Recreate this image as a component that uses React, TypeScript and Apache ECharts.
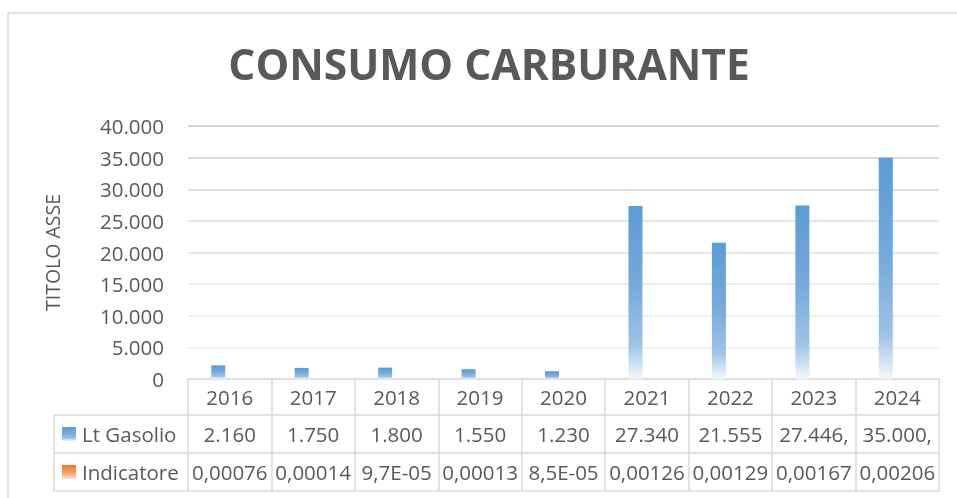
import React, { useEffect, useRef } from "react";
import * as echarts from "echarts";

const years = ["2016", "2017", "2018", "2019", "2020", "2021", "2022", "2023", "2024"];
const gasolio = [2160, 1750, 1800, 1550, 1230, 27340, 21555, 27446, 35000];
const indicatore = [0.00076, 0.00014, 0.000097, 0.00013, 0.000085, 0.00126, 0.00129, 0.00167, 0.00206];
const gasolioLabels = ["2.160", "1.750", "1.800", "1.550", "1.230", "27.340", "21.555", "27.446,", "35.000,"];
const indicatoreLabels = ["0,00076", "0,00014", "9,7E-05", "0,00013", "8,5E-05", "0,00126", "0,00129", "0,00167", "0,00206"];
const seriesNames = ["Lt Gasolio", "Indicatore"];

const FONT = "Open Sans";
const TXT = "#595959";
const LINE = "#D9D9D9";

const GRID_LEFT = 188;
const GRID_RIGHT = 18;
const GRID_TOP = 126;
const GRID_BOTTOM = 119;
const ROW = [36, 38, 38];

const blueGrad = () =>
  new echarts.graphic.LinearGradient(0, 0, 0, 1, [
    { offset: 0, color: "#5B9BD5" },
    { offset: 0.45, color: "#74A9DB" },
    { offset: 0.8, color: "#9DC3E6" },
    { offset: 1, color: "#F3F7FC" },
  ]);
const orangeGrad = () =>
  new echarts.graphic.LinearGradient(0, 0, 0, 1, [
    { offset: 0, color: "#ED7D31" },
    { offset: 0.6, color: "#F2A36E" },
    { offset: 1, color: "#FBE3D3" },
  ]);

export default function App() {
  const ref = useRef<HTMLDivElement>(null);
  useEffect(() => {
    if (!ref.current) return;
    const chart = echarts.init(ref.current, undefined, { renderer: "svg" });
    const axisBottom = 498 - GRID_BOTTOM;
    const r1 = axisBottom + ROW[0];
    const r2 = r1 + ROW[1];
    const r3 = r2 + ROW[2];
    const legLeft = 54;
    const labelStyle = { color: TXT, fontFamily: FONT, fontSize: 20.5 };
    const rowAxis = (data: string[], offset: number, h: number, showLabel: boolean) => ({
      type: "category",
      data,
      position: "bottom",
      offset,
      axisLine: { show: true, lineStyle: { color: LINE, width: 1.5 } },
      axisTick: { show: false },
      axisLabel: { show: showLabel, ...labelStyle, margin: h / 2, verticalAlign: "middle", interval: 0 },
      splitLine: { show: false },
    });
    chart.setOption({
      animation: false,
      title: {
        text: "CONSUMO CARBURANTE",
        left: 484,
        top: 37,
        textAlign: "center",
        textStyle: { color: TXT, fontFamily: FONT, fontWeight: "bold", fontSize: 42.5 },
      },
      grid: { left: GRID_LEFT, right: GRID_RIGHT, top: GRID_TOP, bottom: GRID_BOTTOM },
      xAxis: [
        {
          type: "category",
          data: years,
          axisLine: { show: true, lineStyle: { color: LINE, width: 1.5 } },
          axisTick: { show: true, length: r3 - axisBottom, lineStyle: { color: LINE, width: 1.5 } },
          axisLabel: { ...labelStyle, margin: ROW[0] / 2, verticalAlign: "middle", interval: 0 },
        },
        rowAxis(gasolioLabels, ROW[0], ROW[1], true),
        rowAxis(indicatoreLabels, ROW[0] + ROW[1], ROW[2], true),
        rowAxis(years.map(() => ""), ROW[0] + ROW[1] + ROW[2], 10, false),
      ],
      yAxis: {
        type: "value",
        min: 0,
        max: 40000,
        interval: 5000,
        name: "TITOLO ASSE",
        nameLocation: "middle",
        nameRotate: 90,
        nameGap: 126,
        nameTextStyle: { color: TXT, fontFamily: FONT, fontSize: 19.5 },
        axisLine: { show: false },
        axisTick: { show: false },
        axisLabel: {
          ...labelStyle,
          margin: 24,
          formatter: (v: number) => (v === 0 ? "0" : v.toLocaleString("de-DE")),
        },
        splitLine: {
          lineStyle: {
            width: 1.5,
            color: ["#F2F2F2", "#EFEFEF", "#EBEBEB", "#E6E6E6", "#E1E1E1", "#DBDBDB", "#D4D4D4", "#CDCDCD", "#C7C7C7"],
          },
        },
      },
      series: [
        {
          name: seriesNames[0],
          type: "bar",
          data: gasolio,
          barWidth: 14,
          barGap: "64%",
          itemStyle: { color: blueGrad() },
        },
        {
          name: seriesNames[1],
          type: "bar",
          data: indicatore,
          barWidth: 14,
          itemStyle: { color: orangeGrad() },
        },
      ],
      graphic: [
        {
          type: "rect",
          silent: true,
          z: -10,
          shape: { x: 8, y: 13, width: 1000, height: 600 },
          style: { fill: "none", stroke: LINE, lineWidth: 1.5 },
        },
        ...[r1, r2, r3].map((y) => ({
          type: "line",
          shape: { x1: legLeft, y1: y, x2: GRID_LEFT, y2: y },
          style: { stroke: LINE, lineWidth: 1.5 },
        })),
        {
          type: "line",
          shape: { x1: legLeft, y1: r1, x2: legLeft, y2: r3 },
          style: { stroke: LINE, lineWidth: 1.5 },
        },
        ...seriesNames.flatMap((name, i) => {
          const top = i === 0 ? r1 : r2;
          const cy = top + ROW[i + 1] / 2;
          return [
            {
              type: "rect",
              shape: { x: 62, y: cy - 7, width: 14, height: 14 },
              style: { fill: i === 0 ? blueGrad() : orangeGrad() },
            },
            {
              type: "text",
              x: 82,
              y: cy,
              style: { text: name, fill: TXT, font: `20.5px "${FONT}"`, textVerticalAlign: "middle", verticalAlign: "middle" },
            },
          ];
        }),
      ],
    });
    return () => chart.dispose();
  }, []);
  return <div ref={ref} style={{ position: "fixed", left: 0, top: 0, width: 957, height: 498 }} />;
}
